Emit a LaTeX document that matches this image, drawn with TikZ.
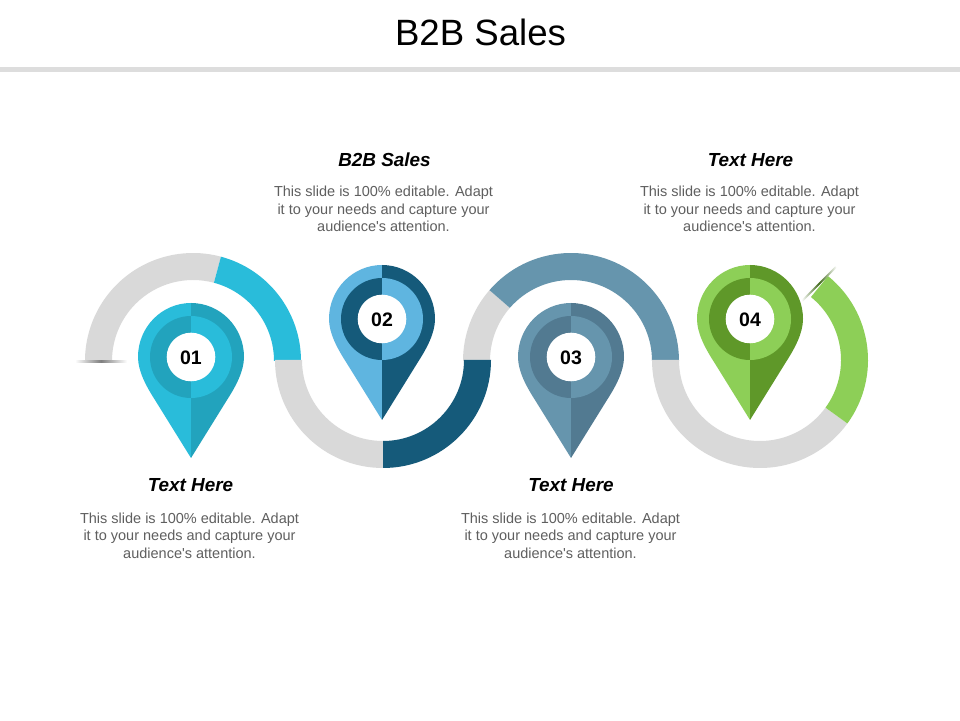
\documentclass[tikz,border=0pt]{standalone}
\usepackage{fontspec}
\setmainfont{Liberation Sans}[Ligatures=TeXOff]
\definecolor{trackgray}{HTML}{D9D9D9}
\definecolor{rulegray}{HTML}{DDDDDD}
\definecolor{bodygray}{HTML}{5F5F5F}
\definecolor{cyanL}{HTML}{29BCDA}
\definecolor{cyanD}{HTML}{22A3BD}
\definecolor{blueL}{HTML}{5FB5E0}
\definecolor{blueD}{HTML}{155A7A}
\definecolor{steelL}{HTML}{6695AD}
\definecolor{steelD}{HTML}{527A91}
\definecolor{greenL}{HTML}{8DCF57}
\definecolor{greenD}{HTML}{5F9829}
\tikzset{
  x=1pt,y=1pt,
  title/.style={font=\fontsize{36.6}{40}\selectfont,text=black,anchor=center,inner sep=0pt},
  heading/.style={font=\fontsize{18.9}{21}\selectfont\bfseries\itshape,text=black,anchor=center,inner sep=0pt},
  bodytext/.style={font=\fontsize{14.5}{17.6}\selectfont,text=bodygray,align=center,anchor=center,inner sep=0pt},
  pinnum/.style={font=\fontsize{19.5}{22}\selectfont\bfseries,text=black,anchor=center,inner sep=0pt}
}
% \seg{cx}{cy}{a1}{a2}{colour}
\newcommand{\seg}[5]{\fill[#5] ([shift={(#3:108)}]#1,#2) arc[start angle=#3,end angle=#4,radius=108]
  -- ([shift={(#4:81)}]#1,#2) arc[start angle=#4,end angle=#3,radius=81] -- cycle;}
% \mappin{cx}{cy}{light}{dark}{name}{number}
\newcommand{\mappin}[6]{
  \begin{scope}[shift={(#1,#2)}]
    \fill[#3] (0,54) arc[start angle=90,end angle=180,x radius=53,y radius=54]
      .. controls (-53,-14) and (-45,-29) .. (-36,-43) -- (0,-101) -- cycle;
    \fill[#4] (0,54) arc[start angle=90,end angle=0,x radius=53,y radius=54]
      .. controls (53,-14) and (45,-29) .. (36,-43) -- (0,-101) -- cycle;
    \fill[#4] (0,41) arc[start angle=90,end angle=270,radius=41] -- cycle;
    \fill[#3] (0,41) arc[start angle=90,end angle=-90,radius=41] -- cycle;
    \fill[white] (0,0) circle[radius=24.3];
    \node[pinnum] (#5) at (0,-1) {#6};
  \end{scope}}
\begin{document}
\begin{tikzpicture}
\useasboundingbox (0,0) rectangle (960,720);
\fill[white] (0,0) rectangle (960,720);
\node[title] (maintitle) at (480.5,688) {B2B Sales};
\fill[rulegray] (0,648) rectangle (960,653);
% track
\seg{193}{359}{180}{75}{trackgray}
\seg{193}{359}{75}{0}{cyanL}
\seg{571}{359}{180}{139}{trackgray}
\seg{571}{359}{139}{0}{steelL}
\seg{383}{360}{180}{270}{trackgray}
\seg{383}{360}{270}{360}{blueD}
\seg{760}{360}{180}{324}{trackgray}
\seg{760}{360}{324}{411}{greenL}
% shadows at the free ends
\shade[left color=white,right color=white,middle color=black!50] (75,357.2) rectangle (127,359);
\begin{scope}[shift={(819,436)},rotate=45]
  \shade[left color=white,right color=white,middle color=greenD!70!black] (-24,-0.9) rectangle (24,0.9);
\end{scope}
% pins
\mappin{191}{363}{cyanL}{cyanD}{pinone}{01}
\mappin{382}{401}{blueL}{blueD}{pintwo}{02}
\mappin{571}{363}{steelL}{steelD}{pinthree}{03}
\mappin{750}{401}{greenL}{greenD}{pinfour}{04}
% texts
\node[heading] (h2) at (384.5,560) {B2B Sales};
\node[bodytext] (b2) at (383.5,511) {This slide is 100\% editable. Adapt\\it to your needs and capture your\\audience's attention.};
\node[heading] (h4) at (750.5,560) {Text Here};
\node[bodytext] (b4) at (749.5,511) {This slide is 100\% editable. Adapt\\it to your needs and capture your\\audience's attention.};
\node[heading] (h1) at (190.5,235) {Text Here};
\node[bodytext] (b1) at (189.5,184.5) {This slide is 100\% editable. Adapt\\it to your needs and capture your\\audience's attention.};
\node[heading] (h3) at (571,235) {Text Here};
\node[bodytext] (b3) at (570.5,184.5) {This slide is 100\% editable. Adapt\\it to your needs and capture your\\audience's attention.};
\end{tikzpicture}
\end{document}
